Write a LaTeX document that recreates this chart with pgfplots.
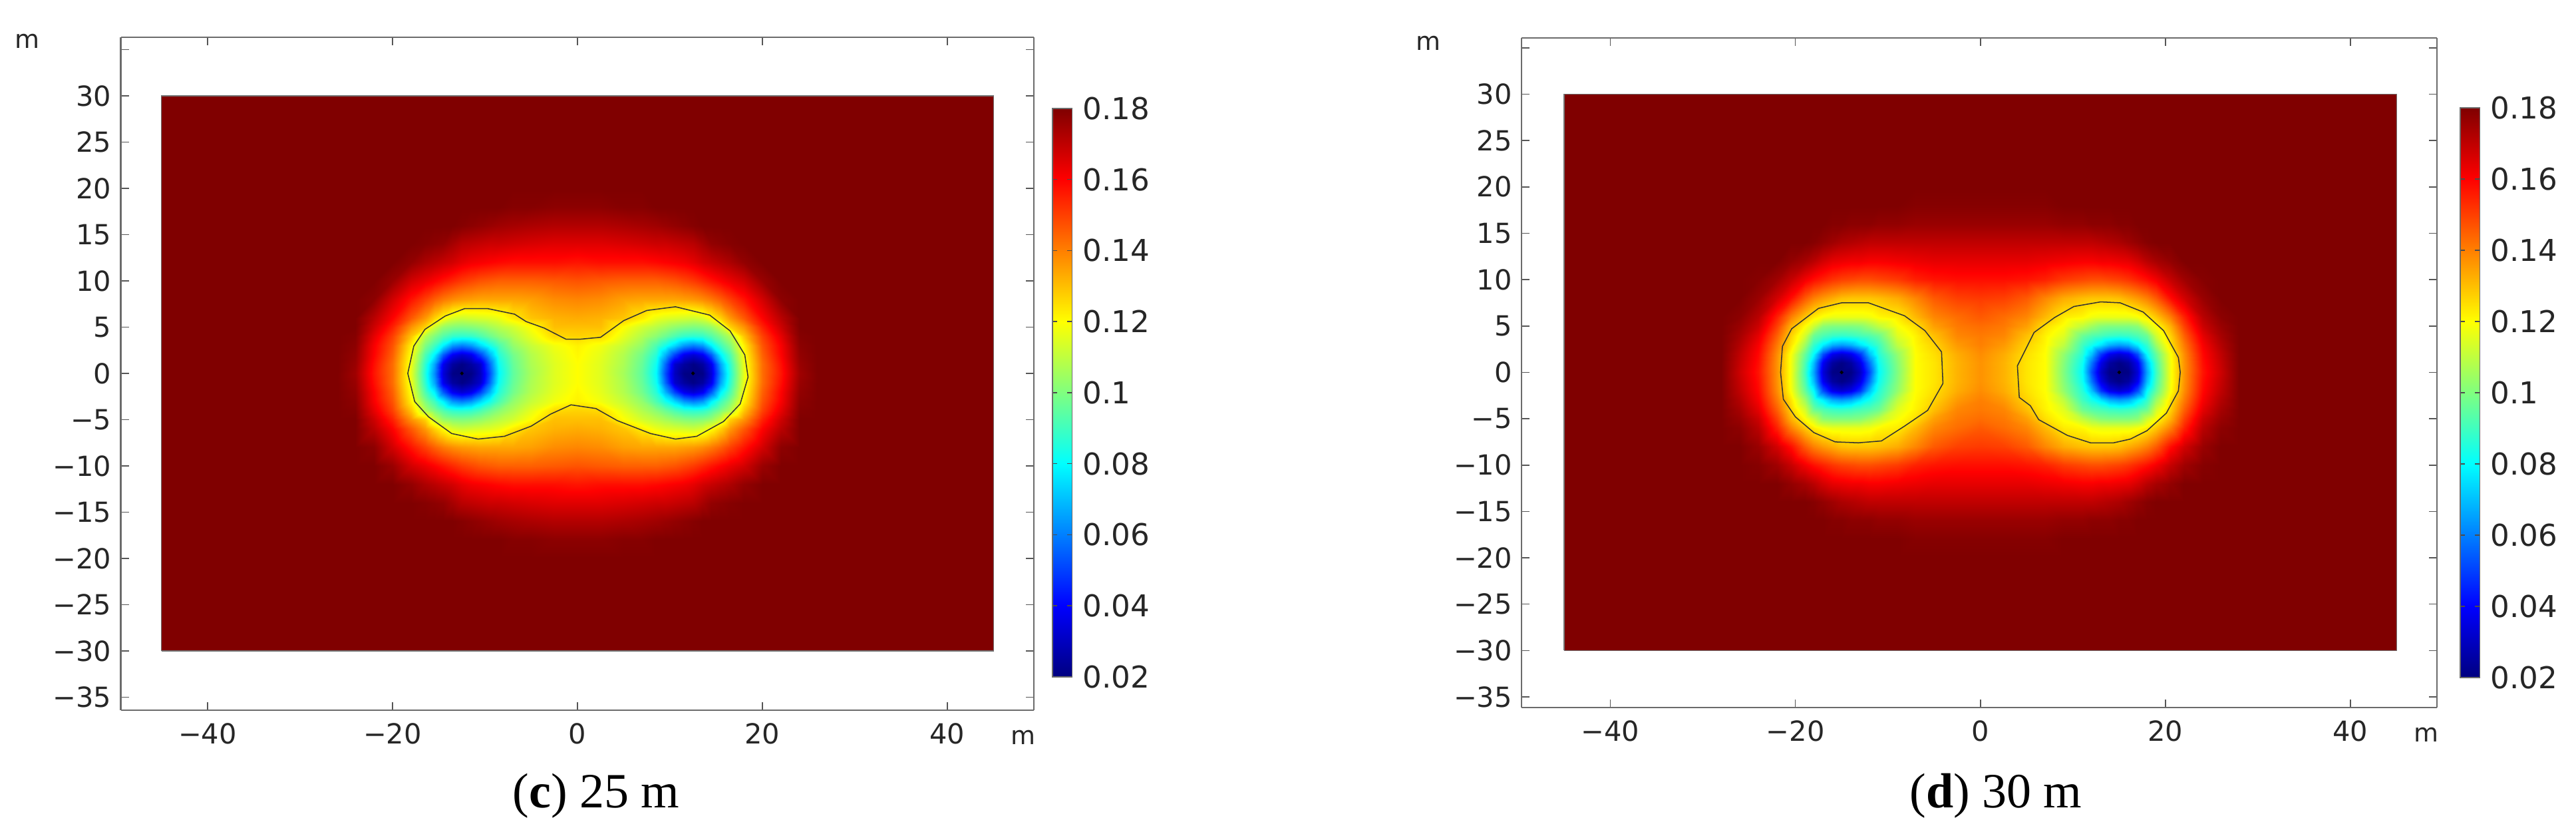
\documentclass[border=0pt]{standalone}
\usepackage{fontspec}
\usepackage{pgfplots}
\usepackage{pgfplotstable}
\pgfplotsset{compat=1.18}
\setmainfont{DejaVu Sans}
\newfontfamily\capfont{Liberation Serif}
\definecolor{frm}{gray}{0.42}

% quadrant x>=0, y>=0 of the field (the picture is symmetric), 25 m
\pgfplotstableread[row sep=\\]{
x y z\\
0 0 .120\\ 2.5 0 .115\\ 5 0 .106\\ 7 0 .095\\ 8.5 0 .080\\ 9.5 0 .052\\ 10.5 0 .030\\ 11.5 0 .021\\ 12.5 0 .020\\ 13.5 0 .021\\ 14.5 0 .034\\ 15.5 0 .062\\ 16.5 0 .085\\ 18 0 .116\\ 20 0 .143\\ 22 0 .157\\ 24 0 .175\\ 26 0 .180\\ 45 0 .180\\
0 1 .120\\ 2.5 1 .115\\ 5 1 .107\\ 7 1 .096\\ 8.5 1 .082\\ 9.5 1 .056\\ 10.5 1 .032\\ 11.5 1 .025\\ 12.5 1 .021\\ 13.5 1 .025\\ 14.5 1 .037\\ 15.5 1 .066\\ 16.5 1 .087\\ 18 1 .117\\ 20 1 .143\\ 22 1 .158\\ 24 1 .176\\ 26 1 .180\\ 45 1 .180\\
0 2 .121\\ 2.5 2 .116\\ 5 2 .108\\ 7 2 .098\\ 8.5 2 .086\\ 9.5 2 .068\\ 10.5 2 .050\\ 11.5 2 .037\\ 12.5 2 .033\\ 13.5 2 .038\\ 14.5 2 .054\\ 15.5 2 .078\\ 16.5 2 .092\\ 18 2 .119\\ 20 2 .145\\ 22 2 .160\\ 24 2 .177\\ 26 2 .180\\ 45 2 .180\\
0 3 .122\\ 2.5 3 .118\\ 5 3 .111\\ 7 3 .103\\ 8.5 3 .092\\ 9.5 3 .083\\ 10.5 3 .074\\ 11.5 3 .064\\ 12.5 3 .060\\ 13.5 3 .064\\ 14.5 3 .078\\ 15.5 3 .090\\ 16.5 3 .100\\ 18 3 .122\\ 20 3 .147\\ 22 3 .161\\ 24 3 .178\\ 26 3 .180\\ 45 3 .180\\
0 4 .127\\ 2.5 4 .126\\ 5 4 .116\\ 7 4 .108\\ 8.5 4 .102\\ 9.5 4 .097\\ 10.5 4 .092\\ 11.5 4 .088\\ 12.5 4 .087\\ 13.5 4 .088\\ 14.5 4 .093\\ 15.5 4 .100\\ 16.5 4 .108\\ 18 4 .129\\ 20 4 .150\\ 22 4 .164\\ 24 4 .179\\ 26 4 .180\\ 45 4 .180\\
0 5 .130\\ 2.5 5 .130\\ 5 5 .120\\ 7 5 .113\\ 8.5 5 .109\\ 9.5 5 .106\\ 10.5 5 .103\\ 11.5 5 .101\\ 12.5 5 .100\\ 13.5 5 .101\\ 14.5 5 .104\\ 15.5 5 .112\\ 16.5 5 .127\\ 18 5 .137\\ 20 5 .155\\ 22 5 .168\\ 24 5 .180\\ 26 5 .180\\ 45 5 .180\\
0 6 .133\\ 2.5 6 .132\\ 5 6 .129\\ 7 6 .123\\ 8.5 6 .117\\ 9.5 6 .115\\ 10.5 6 .114\\ 11.5 6 .113\\ 12.5 6 .112\\ 13.5 6 .114\\ 14.5 6 .120\\ 15.5 6 .127\\ 16.5 6 .136\\ 18 6 .146\\ 20 6 .160\\ 22 6 .171\\ 24 6 .180\\ 26 6 .180\\ 45 6 .180\\
0 8 .139\\ 2.5 8 .138\\ 5 8 .135\\ 7 8 .134\\ 8.5 8 .134\\ 9.5 8 .134\\ 10.5 8 .134\\ 11.5 8 .135\\ 12.5 8 .136\\ 13.5 8 .138\\ 14.5 8 .141\\ 15.5 8 .145\\ 16.5 8 .150\\ 18 8 .157\\ 20 8 .167\\ 22 8 .178\\ 24 8 .180\\ 26 8 .180\\ 45 8 .180\\
0 10 .147\\ 2.5 10 .146\\ 5 10 .145\\ 7 10 .145\\ 8.5 10 .145\\ 9.5 10 .146\\ 10.5 10 .147\\ 11.5 10 .149\\ 12.5 10 .151\\ 13.5 10 .154\\ 14.5 10 .157\\ 15.5 10 .160\\ 16.5 10 .163\\ 18 10 .167\\ 20 10 .176\\ 22 10 .180\\ 24 10 .180\\ 26 10 .180\\ 45 10 .180\\
0 12 .157\\ 2.5 12 .158\\ 5 12 .158\\ 7 12 .158\\ 8.5 12 .159\\ 9.5 12 .160\\ 10.5 12 .161\\ 11.5 12 .162\\ 12.5 12 .164\\ 13.5 12 .167\\ 14.5 12 .169\\ 15.5 12 .171\\ 16.5 12 .173\\ 18 12 .177\\ 20 12 .180\\ 22 12 .180\\ 24 12 .180\\ 26 12 .180\\ 45 12 .180\\
0 14 .165\\ 2.5 14 .165\\ 5 14 .166\\ 7 14 .167\\ 8.5 14 .168\\ 9.5 14 .168\\ 10.5 14 .169\\ 11.5 14 .170\\ 12.5 14 .171\\ 13.5 14 .174\\ 14.5 14 .177\\ 15.5 14 .178\\ 16.5 14 .179\\ 18 14 .180\\ 20 14 .180\\ 22 14 .180\\ 24 14 .180\\ 26 14 .180\\ 45 14 .180\\
0 16 .172\\ 2.5 16 .172\\ 5 16 .173\\ 7 16 .174\\ 8.5 16 .175\\ 9.5 16 .176\\ 10.5 16 .177\\ 11.5 16 .178\\ 12.5 16 .179\\ 13.5 16 .180\\ 14.5 16 .180\\ 15.5 16 .180\\ 16.5 16 .180\\ 18 16 .180\\ 20 16 .180\\ 22 16 .180\\ 24 16 .180\\ 26 16 .180\\ 45 16 .180\\
0 18 .178\\ 2.5 18 .178\\ 5 18 .179\\ 7 18 .179\\ 8.5 18 .180\\ 9.5 18 .180\\ 10.5 18 .180\\ 11.5 18 .180\\ 12.5 18 .180\\ 13.5 18 .180\\ 14.5 18 .180\\ 15.5 18 .180\\ 16.5 18 .180\\ 18 18 .180\\ 20 18 .180\\ 22 18 .180\\ 24 18 .180\\ 26 18 .180\\ 45 18 .180\\
0 20 .180\\ 2.5 20 .180\\ 5 20 .180\\ 7 20 .180\\ 8.5 20 .180\\ 9.5 20 .180\\ 10.5 20 .180\\ 11.5 20 .180\\ 12.5 20 .180\\ 13.5 20 .180\\ 14.5 20 .180\\ 15.5 20 .180\\ 16.5 20 .180\\ 18 20 .180\\ 20 20 .180\\ 22 20 .180\\ 24 20 .180\\ 26 20 .180\\ 45 20 .180\\
0 30 .180\\ 2.5 30 .180\\ 5 30 .180\\ 7 30 .180\\ 8.5 30 .180\\ 9.5 30 .180\\ 10.5 30 .180\\ 11.5 30 .180\\ 12.5 30 .180\\ 13.5 30 .180\\ 14.5 30 .180\\ 15.5 30 .180\\ 16.5 30 .180\\ 18 30 .180\\ 20 30 .180\\ 22 30 .180\\ 24 30 .180\\ 26 30 .180\\ 45 30 .180\\
}\tabc

% same, 30 m
\pgfplotstableread[row sep=\\]{
x y z\\
0 0 .137\\ 2.5 0 .132\\ 5 0 .124\\ 7 0 .120\\ 9 0 .100\\ 11 0 .080\\ 12 0 .052\\ 13 0 .031\\ 14 0 .021\\ 15 0 .020\\ 16 0 .021\\ 17 0 .034\\ 18 0 .066\\ 19 0 .090\\ 20.5 0 .118\\ 22 0 .137\\ 24 0 .157\\ 26 0 .168\\ 28 0 .180\\ 45 0 .180\\
0 1 .137\\ 2.5 1 .132\\ 5 1 .124\\ 7 1 .120\\ 9 1 .101\\ 11 1 .082\\ 12 1 .058\\ 13 1 .036\\ 14 1 .025\\ 15 1 .021\\ 16 1 .025\\ 17 1 .038\\ 18 1 .070\\ 19 1 .092\\ 20.5 1 .118\\ 22 1 .137\\ 24 1 .158\\ 26 1 .169\\ 28 1 .180\\ 45 1 .180\\
0 2 .138\\ 2.5 2 .133\\ 5 2 .125\\ 7 2 .120\\ 9 2 .103\\ 11 2 .086\\ 12 2 .070\\ 13 2 .048\\ 14 2 .037\\ 15 2 .033\\ 16 2 .037\\ 17 2 .052\\ 18 2 .080\\ 19 2 .096\\ 20.5 2 .119\\ 22 2 .138\\ 24 2 .159\\ 26 2 .170\\ 28 2 .180\\ 45 2 .180\\
0 3 .140\\ 2.5 3 .136\\ 5 3 .127\\ 7 3 .121\\ 9 3 .110\\ 11 3 .090\\ 12 3 .083\\ 13 3 .076\\ 14 3 .068\\ 15 3 .065\\ 16 3 .068\\ 17 3 .078\\ 18 3 .088\\ 19 3 .105\\ 20.5 3 .124\\ 22 3 .141\\ 24 3 .161\\ 26 3 .172\\ 28 3 .180\\ 45 3 .180\\
0 4 .141\\ 2.5 4 .139\\ 5 4 .130\\ 7 4 .122\\ 9 4 .115\\ 11 4 .097\\ 12 4 .093\\ 13 4 .091\\ 14 4 .089\\ 15 4 .088\\ 16 4 .089\\ 17 4 .092\\ 18 4 .097\\ 19 4 .113\\ 20.5 4 .127\\ 22 4 .145\\ 24 4 .164\\ 26 4 .174\\ 28 4 .180\\ 45 4 .180\\
0 5 .143\\ 2.5 5 .141\\ 5 5 .135\\ 7 5 .125\\ 9 5 .119\\ 11 5 .110\\ 12 5 .105\\ 13 5 .101\\ 14 5 .100\\ 15 5 .100\\ 16 5 .100\\ 17 5 .102\\ 18 5 .112\\ 19 5 .120\\ 20.5 5 .132\\ 22 5 .150\\ 24 5 .168\\ 26 5 .176\\ 28 5 .180\\ 45 5 .180\\
0 6 .146\\ 2.5 6 .143\\ 5 6 .139\\ 7 6 .131\\ 9 6 .123\\ 11 6 .121\\ 12 6 .118\\ 13 6 .117\\ 14 6 .117\\ 15 6 .117\\ 16 6 .117\\ 17 6 .119\\ 18 6 .123\\ 19 6 .129\\ 20.5 6 .140\\ 22 6 .155\\ 24 6 .171\\ 26 6 .178\\ 28 6 .180\\ 45 6 .180\\
0 8 .151\\ 2.5 8 .150\\ 5 8 .146\\ 7 8 .139\\ 9 8 .133\\ 11 8 .130\\ 12 8 .129\\ 13 8 .129\\ 14 8 .129\\ 15 8 .130\\ 16 8 .133\\ 17 8 .136\\ 18 8 .140\\ 19 8 .146\\ 20.5 8 .158\\ 22 8 .167\\ 24 8 .176\\ 26 8 .180\\ 28 8 .180\\ 45 8 .180\\
0 10 .158\\ 2.5 10 .158\\ 5 10 .157\\ 7 10 .155\\ 9 10 .151\\ 11 10 .149\\ 12 10 .148\\ 13 10 .148\\ 14 10 .149\\ 15 10 .150\\ 16 10 .152\\ 17 10 .155\\ 18 10 .158\\ 19 10 .162\\ 20.5 10 .169\\ 22 10 .175\\ 24 10 .179\\ 26 10 .180\\ 28 10 .180\\ 45 10 .180\\
0 12 .164\\ 2.5 12 .164\\ 5 12 .164\\ 7 12 .163\\ 9 12 .162\\ 11 12 .161\\ 12 12 .161\\ 13 12 .162\\ 14 12 .162\\ 15 12 .163\\ 16 12 .164\\ 17 12 .167\\ 18 12 .171\\ 19 12 .174\\ 20.5 12 .177\\ 22 12 .180\\ 24 12 .180\\ 26 12 .180\\ 28 12 .180\\ 45 12 .180\\
0 14 .170\\ 2.5 14 .170\\ 5 14 .170\\ 7 14 .170\\ 9 14 .170\\ 11 14 .170\\ 12 14 .170\\ 13 14 .171\\ 14 14 .172\\ 15 14 .173\\ 16 14 .175\\ 17 14 .177\\ 18 14 .179\\ 19 14 .180\\ 20.5 14 .180\\ 22 14 .180\\ 24 14 .180\\ 26 14 .180\\ 28 14 .180\\ 45 14 .180\\
0 16 .176\\ 2.5 16 .176\\ 5 16 .176\\ 7 16 .176\\ 9 16 .177\\ 11 16 .177\\ 12 16 .178\\ 13 16 .178\\ 14 16 .178\\ 15 16 .179\\ 16 16 .179\\ 17 16 .180\\ 18 16 .180\\ 19 16 .180\\ 20.5 16 .180\\ 22 16 .180\\ 24 16 .180\\ 26 16 .180\\ 28 16 .180\\ 45 16 .180\\
0 18 .179\\ 2.5 18 .179\\ 5 18 .179\\ 7 18 .179\\ 9 18 .180\\ 11 18 .180\\ 12 18 .180\\ 13 18 .180\\ 14 18 .180\\ 15 18 .180\\ 16 18 .180\\ 17 18 .180\\ 18 18 .180\\ 19 18 .180\\ 20.5 18 .180\\ 22 18 .180\\ 24 18 .180\\ 26 18 .180\\ 28 18 .180\\ 45 18 .180\\
0 20 .180\\ 2.5 20 .180\\ 5 20 .180\\ 7 20 .180\\ 9 20 .180\\ 11 20 .180\\ 12 20 .180\\ 13 20 .180\\ 14 20 .180\\ 15 20 .180\\ 16 20 .180\\ 17 20 .180\\ 18 20 .180\\ 19 20 .180\\ 20.5 20 .180\\ 22 20 .180\\ 24 20 .180\\ 26 20 .180\\ 28 20 .180\\ 45 20 .180\\
0 30 .180\\ 2.5 30 .180\\ 5 30 .180\\ 7 30 .180\\ 9 30 .180\\ 11 30 .180\\ 12 30 .180\\ 13 30 .180\\ 14 30 .180\\ 15 30 .180\\ 16 30 .180\\ 17 30 .180\\ 18 30 .180\\ 19 30 .180\\ 20.5 30 .180\\ 22 30 .180\\ 24 30 .180\\ 26 30 .180\\ 28 30 .180\\ 45 30 .180\\
}\tabd

\pgfplotsset{
  colormap={cjet}{rgb(0cm)=(0,0,.5); rgb(1cm)=(0,0,1); rgb(3cm)=(0,1,1); rgb(5cm)=(1,1,0); rgb(7cm)=(1,0,0); rgb(8cm)=(.5,0,0)},
  fieldaxis/.style={
    scale only axis, anchor=south west, view={0}{90},
    point meta min=0.02, point meta max=0.18,
    axis line style={draw=frm,line width=.55pt},
    tick style={draw=frm!80!black,line width=.4pt},
    tick align=inside, major tick length=3pt,
    xtick={-40,-20,0,20,40}, xticklabels={−40,−20,0,20,40},
    ytick={-35,-30,...,35},
    yticklabels={−35,−30,−25,−20,−15,−10,−5,0,5,10,15,20,25,30,{}},
    tick label style={font=\fontsize{10.4}{12}\selectfont,text=black!85},
    xticklabel style={yshift=-1.5pt},
    colorbar,
  },
  fieldsurf/.style={surf,shader=interp,mesh/cols=#1},
  cbs/.style n args={2}{
    at={(#1,#2)}, anchor=south west, width=7.4pt,
    ytick={.02,.04,.06,.08,.1,.12,.14,.16,.18},
    yticklabels={0.02,0.04,0.06,0.08,0.1,0.12,0.14,0.16,0.18},
    yticklabel pos=right,
    tick align=inside, major tick length=1.8pt,
    axis line style={draw=frm,line width=.4pt},
    tick style={draw=black!70,line width=.35pt},
    ticklabel style={font=\fontsize{11.3}{13}\selectfont,text=black!85},
    yticklabel style={xshift=.5pt},
  },
}
\newcommand{\quadrants}[2]{%
  \addplot3[fieldsurf=#2] table[x=x,y=y,z=z]{#1};
  \addplot3[fieldsurf=#2] table[x expr=-\thisrow{x},y=y,z=z]{#1};
  \addplot3[fieldsurf=#2] table[x=x,y expr=-\thisrow{y},z=z]{#1};
  \addplot3[fieldsurf=#2] table[x expr=-\thisrow{x},y expr=-\thisrow{y},z=z]{#1};
}

\begin{document}
\begin{tikzpicture}
\path[use as bounding box] (0,0) rectangle (968pt,312.5pt);

\begin{axis}[fieldaxis, at={(45.38pt,45.75pt)}, width=343.1pt, height=252.75pt,
  xmin=-49.39, xmax=49.35, ymin=-36.4, ymax=36.33,
  colorbar style={cbs={1.0204}{.0495},height=213.5pt}]
\quadrants{\tabc}{19}
\addplot[black!55,line width=.3pt] coordinates {(-45,-30)(45,-30)(45,30)(-45,30)(-45,-30)};
\addplot[black!80,line width=.38pt] coordinates {
(-18.35,0)(-17.7,2.95)(-16.5,4.75)(-14.3,6.2)(-12.2,7)(-9.7,7)(-6.8,6.4)(-5.55,5.6)(-3.6,4.9)(-1.25,3.7)(.35,3.7)(2.5,3.9)(5,5.7)(7.5,6.8)(10.6,7.2)(14.3,6.3)(16.5,4.6)(18.1,2)(18.45,-.4)(17.6,-3.3)(15.8,-5.2)(12.9,-6.8)(10.6,-7.1)(7.9,-6.5)(4.3,-5.1)(2,-3.8)(-.7,-3.4)(-2.9,-4.4)(-5,-5.7)(-7.9,-6.8)(-10.75,-7.1)(-13.6,-6.5)(-16.1,-4.7)(-17.6,-3.05)(-18.35,0)};
\addplot[only marks,mark=*,mark size=.45pt,black] coordinates {(-12.5,0)(12.5,0)};
\end{axis}

\begin{axis}[fieldaxis, at={(571.75pt,46.75pt)}, width=344pt, height=251.5pt,
  xmin=-49.6, xmax=49.35, ymin=-36.15, ymax=36.07,
  colorbar style={cbs={1.0254}{.0447},height=214pt}]
\quadrants{\tabd}{20}
\addplot[black!55,line width=.3pt] coordinates {(-45,-30)(45,-30)(45,30)(-45,30)(-45,-30)};
\addplot[black!80,line width=.38pt] coordinates {
(-21.6,0)(-21.4,2.8)(-20.4,4.7)(-17.5,6.9)(-15,7.5)(-12.1,7.5)(-8.2,6.1)(-6,4.5)(-4.2,2.2)(-4.05,-1.2)(-5.7,-4.1)(-8.2,-5.8)(-10.7,-7.4)(-13.2,-7.6)(-15.7,-7.5)(-18,-6.5)(-20,-4.8)(-21.3,-2.9)(-21.6,0)};
\addplot[black!80,line width=.38pt] coordinates {
(4,.7)(5.8,4.3)(8,5.9)(10.1,7.1)(13,7.6)(15.1,7.5)(17.6,6.5)(19.8,4.5)(21.4,1.6)(21.6,0)(21.4,-2)(20.1,-4.4)(18,-6.3)(16.2,-7.2)(14.4,-7.6)(11.9,-7.6)(9.4,-6.8)(6.3,-5.1)(5.4,-3.6)(4.2,-2.7)(4,.7)};
\addplot[only marks,mark=*,mark size=.45pt,black] coordinates {(-15,0)(15,0)};
\end{axis}

\tikzset{ml/.style={font=\fontsize{9.5}{11}\selectfont,text=black!85,inner sep=0pt}}
\node[ml] at (10.25pt,297pt) {m};
\node[ml] at (384.5pt,35.5pt) {m};
\node[ml] at (536.75pt,296.25pt) {m};
\node[ml] at (911.75pt,36.5pt) {m};
\node[font=\capfont\fontsize{18.5}{21}\selectfont,inner sep=0pt] at (224pt,13.5pt) {(\textbf{c}) 25 m};
\node[font=\capfont\fontsize{18.5}{21}\selectfont,inner sep=0pt] at (750pt,13.5pt) {(\textbf{d}) 30 m};
\end{tikzpicture}
\end{document}
